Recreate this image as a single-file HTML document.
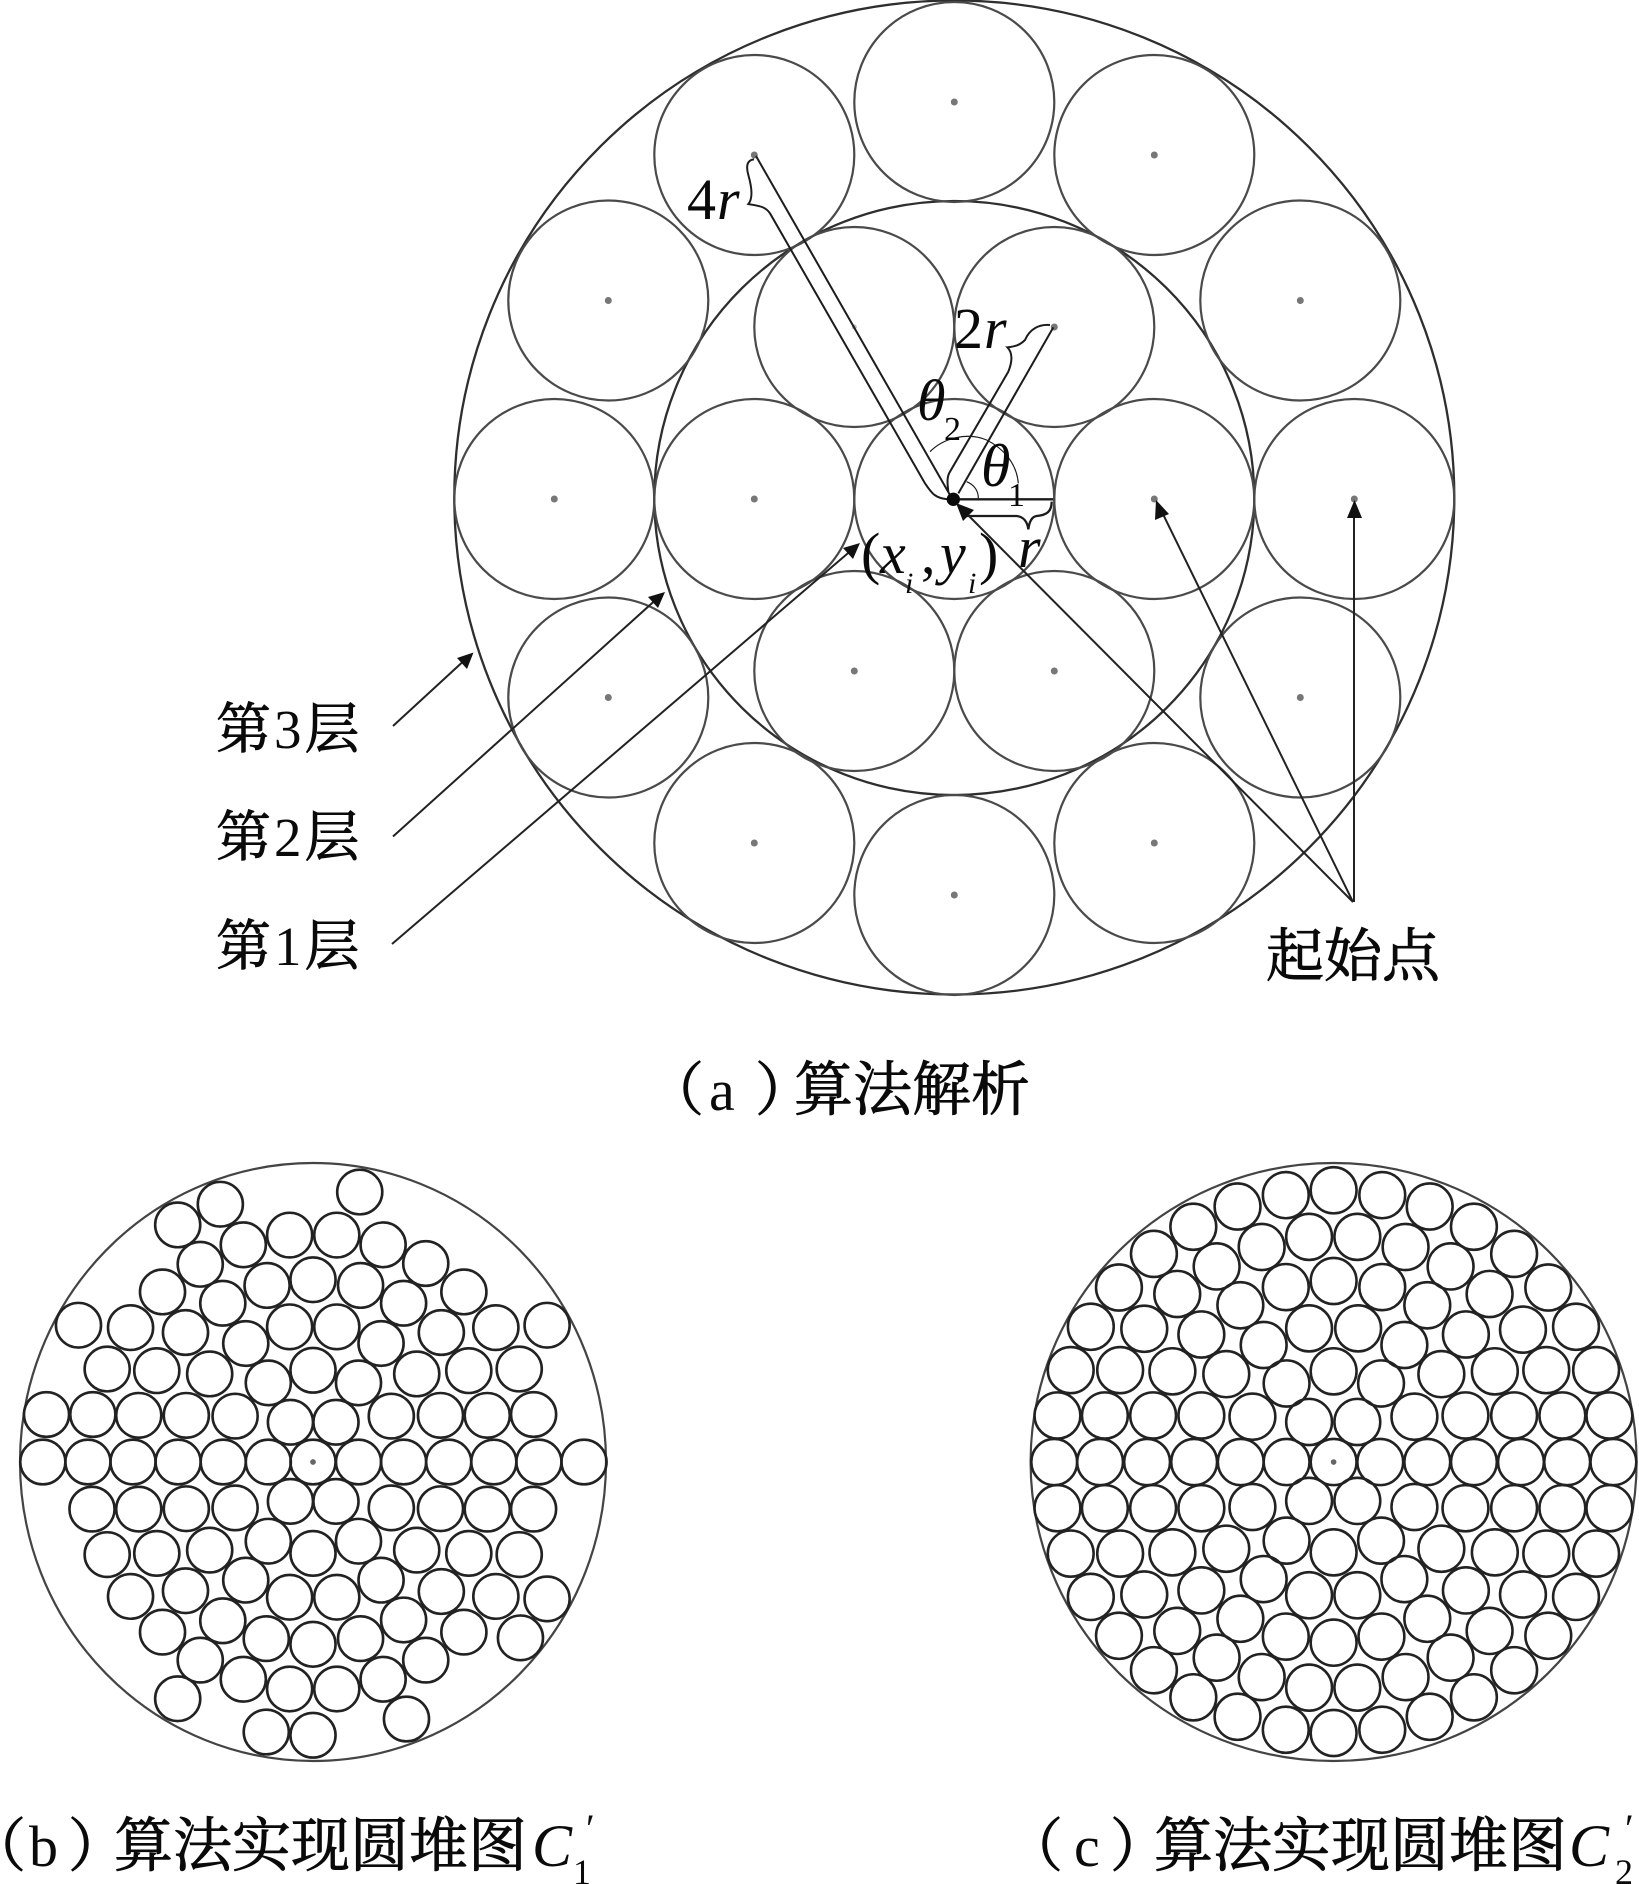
<!DOCTYPE html>
<html lang="zh">
<head>
<meta charset="utf-8">
<title>算法解析</title>
<style>
html,body{margin:0;padding:0;background:#fff}
svg{display:block}
.cn{font-family:"Liberation Serif","Noto Serif CJK SC",serif;fill:#0a0a0a;stroke:#0a0a0a;stroke-width:.9px}
.i{font-family:"Liberation Serif",serif;font-style:italic;fill:#0a0a0a}
.n{font-family:"Liberation Serif",serif;fill:#0a0a0a}
tspan.n{stroke:none}
</style>
</head>
<body>
<svg xmlns="http://www.w3.org/2000/svg" width="1639" height="1884" viewBox="0 0 1639 1884">
<rect width="1639" height="1884" fill="#fff"/>

<!-- (a) main diagram -->
<ellipse cx="954.3" cy="497.5" rx="500" ry="497" fill="none" stroke="#2e2e2e" stroke-width="2.3"/>
<ellipse cx="954.3" cy="498" rx="300" ry="297" fill="none" stroke="#2e2e2e" stroke-width="2.3"/>
<g fill="none" stroke="#4a4a4a" stroke-width="2.2">
<circle cx="954.3" cy="499" r="100"/>
<circle cx="1154.3" cy="499" r="100"/><circle cx="1054.3" cy="327" r="100"/><circle cx="854.3" cy="327" r="100"/>
<circle cx="754.3" cy="499" r="100"/><circle cx="854.3" cy="671" r="100"/><circle cx="1054.3" cy="671" r="100"/>
<circle cx="1354.3" cy="499" r="100"/><circle cx="1300.3" cy="300.5" r="100"/><circle cx="1154.3" cy="155" r="100"/>
<circle cx="954.3" cy="102" r="100"/><circle cx="754.3" cy="155" r="100"/><circle cx="608.3" cy="300.5" r="100"/>
<circle cx="554.3" cy="499" r="100"/><circle cx="608.3" cy="697.5" r="100"/><circle cx="754.3" cy="843" r="100"/>
<circle cx="954.3" cy="895" r="100"/><circle cx="1154.3" cy="843" r="100"/><circle cx="1300.3" cy="697.5" r="100"/>
</g>
<g fill="#777">
<circle cx="1154.3" cy="499" r="3.5"/><circle cx="1054.3" cy="327" r="3.5"/><circle cx="854.3" cy="327" r="2.5" fill="#bbb"/>
<circle cx="754.3" cy="499" r="3.5"/><circle cx="854.3" cy="671" r="3.5"/><circle cx="1054.3" cy="671" r="3.5"/>
<circle cx="1354.3" cy="499" r="3.5"/><circle cx="1300.3" cy="300.5" r="3.5"/><circle cx="1154.3" cy="155" r="3.5"/>
<circle cx="954.3" cy="102" r="3.5"/><circle cx="754.3" cy="155" r="3.5"/><circle cx="608.3" cy="300.5" r="3.5"/>
<circle cx="554.3" cy="499" r="3.5"/><circle cx="608.3" cy="697.5" r="3.5"/><circle cx="754.3" cy="843" r="3.5"/>
<circle cx="954.3" cy="895" r="3.5"/><circle cx="1154.3" cy="843" r="3.5"/><circle cx="1300.3" cy="697.5" r="3.5"/>
</g>

<!-- annotation overlay in 3x local coordinates -->
<g transform="translate(650 130) scale(.33333)" fill="none" stroke="#1c1c1c" stroke-width="6">
<path d="M318,78 L900,1095"/>
<path d="M312,88 C290,90 288,110 295,135 C305,170 310,205 295,222 C325,228 345,228 360,250 L825,1060 C845,1090 855,1105 895,1108"/>
<path d="M1210,592 L925,1090"/>
<path d="M1200,585 C1170,582 1140,595 1125,630 C1110,645 1095,650 1072,652 C1090,670 1085,700 1075,725 L900,1025 C890,1040 892,1060 895,1085"/>
<path d="M915,1108 L1210,1108" stroke-width="7"/>
<path d="M1205,1115 C1205,1145 1190,1155 1160,1158 C1145,1160 1138,1175 1135,1198 C1132,1175 1120,1160 1100,1158 L950,1158" stroke-width="7"/>
<path d="M840,965 C880,925 950,905 1010,930 C1060,955 1100,1000 1105,1060" stroke-width="3.5"/>
<path d="M950,1055 C975,1065 985,1085 985,1105" stroke-width="3.5"/>
<circle cx="910" cy="1108" r="20" fill="#0a0a0a" stroke="none"/>
</g>

<!-- arrows -->
<g stroke="#222" stroke-width="2" fill="none">
<path d="M393,726 L468,657"/>
<path d="M393,836.5 L660,596"/>
<path d="M392,944 L854,548"/>
<path d="M1353,902 L963,510"/>
<path d="M1353,902 L1160,508"/>
<path d="M1354,902 L1354,510"/>
</g>
<g fill="#111">
<polygon points="473.5,652.5 467,669 457,658"/>
<polygon points="665,592 658,608 648,597"/>
<polygon points="860,543 853,559 843,548"/>
<polygon points="956,503 974,510 963,521"/>
<polygon points="1156,500 1169,514 1155,520"/>
<polygon points="1354.5,500 1362,518 1347,518"/>
</g>

<!-- layer labels -->
<text class="cn" x="216" y="748" font-size="55">第<tspan class="n" dx="3">3</tspan><tspan dx="3">层</tspan></text>
<text class="cn" x="216" y="856" font-size="55">第<tspan class="n" dx="3">2</tspan><tspan dx="3">层</tspan></text>
<text class="cn" x="216" y="965" font-size="55">第<tspan class="n" dx="3">1</tspan><tspan dx="3">层</tspan></text>
<text class="cn" x="1266" y="976" font-size="58">起始点</text>

<!-- math labels -->
<text class="n" x="687" y="219" font-size="58">4</text><text class="i" x="717" y="219" font-size="58">r</text>
<text class="n" x="954" y="348" font-size="58">2</text><text class="i" x="984" y="348" font-size="58">r</text>
<text class="i" x="917" y="420" font-size="58">θ</text><text class="n" x="944" y="440" font-size="34">2</text>
<text class="i" x="981" y="486" font-size="60">θ</text><text class="n" x="1008" y="506" font-size="34">1</text>
<text class="i" x="1018" y="567" font-size="58">r</text>
<text class="n" x="861" y="573" font-size="58">(</text>
<text class="i" x="880" y="573" font-size="58">x</text>
<text class="i" x="905" y="593" font-size="30">i</text>
<text class="n" x="921" y="573" font-size="58">,</text>
<text class="i" x="940" y="573" font-size="58">y</text>
<text class="i" x="968" y="593" font-size="30">i</text>
<text class="n" x="979" y="573" font-size="58">)</text>

<!-- captions -->
<text class="cn" x="646" y="1110" font-size="58">（</text>
<text class="n" x="709" y="1110" font-size="58">a</text>
<text class="cn" x="755" y="1110" font-size="58">）</text>
<text class="cn" x="794" y="1110" font-size="59">算法解析</text>

<text class="cn" x="-32" y="1866" font-size="58">（</text>
<text class="n" x="29" y="1866" font-size="58">b</text>
<text class="cn" x="68" y="1866" font-size="58">）</text>
<text class="cn" x="114" y="1866" font-size="59">算法实现圆堆图</text>
<text class="i" x="532" y="1866" font-size="60">C</text>
<text class="n" x="586" y="1842" font-size="40">′</text>
<text class="n" x="573" y="1884" font-size="36">1</text>

<text class="cn" x="1005" y="1866" font-size="58">（</text>
<text class="n" x="1074" y="1866" font-size="58">c</text>
<text class="cn" x="1110" y="1866" font-size="58">）</text>
<text class="cn" x="1154" y="1866" font-size="59">算法实现圆堆图</text>
<text class="i" x="1569" y="1866" font-size="60">C</text>
<text class="n" x="1625" y="1842" font-size="40">′</text>
<text class="n" x="1615" y="1884" font-size="36">2</text>

<!-- (b) C1 -->
<ellipse cx="313" cy="1462" rx="293" ry="299" fill="none" stroke="#444" stroke-width="2.2"/>
<g transform="matrix(.41 0 0 .406 -1.47 1142.5)" fill="none" stroke="#222" stroke-width="6.4">
<circle cx="881" cy="122" r="55"/><circle cx="541" cy="152" r="55"/><circle cx="437" cy="203" r="55"/>
<circle cx="597" cy="252" r="55"/><circle cx="710" cy="228" r="55"/><circle cx="825" cy="228" r="55"/><circle cx="938" cy="252" r="55"/>
<circle cx="492" cy="300" r="55"/><circle cx="1042" cy="298" r="55"/>
<circle cx="400" cy="368" r="55"/><circle cx="655" cy="352" r="55"/><circle cx="767" cy="338" r="55"/><circle cx="883" cy="352" r="55"/><circle cx="1135" cy="368" r="55"/>
<circle cx="547" cy="396" r="55"/><circle cx="988" cy="396" r="55"/>
<circle cx="195" cy="450" r="55"/><circle cx="322" cy="456" r="55"/><circle cx="456" cy="468" r="55"/><circle cx="710" cy="454" r="55"/><circle cx="825" cy="454" r="55"/><circle cx="1080" cy="468" r="55"/><circle cx="1213" cy="456" r="55"/><circle cx="1338" cy="450" r="55"/>
<circle cx="603" cy="495" r="55"/><circle cx="933" cy="495" r="55"/>
<circle cx="265" cy="558" r="55"/><circle cx="386" cy="562" r="55"/><circle cx="515" cy="570" r="55"/><circle cx="767" cy="561" r="55"/><circle cx="1020" cy="570" r="55"/><circle cx="1147" cy="562" r="55"/><circle cx="1270" cy="558" r="55"/>
<circle cx="658" cy="592" r="55"/><circle cx="878" cy="592" r="55"/>
<circle cx="117" cy="670" r="55"/><circle cx="230" cy="670" r="55"/><circle cx="342" cy="672" r="55"/><circle cx="458" cy="672" r="55"/><circle cx="577" cy="674" r="55"/><circle cx="958" cy="674" r="55"/><circle cx="1078" cy="672" r="55"/><circle cx="1192" cy="672" r="55"/><circle cx="1305" cy="670" r="55"/>
<circle cx="712" cy="689" r="55"/><circle cx="823" cy="689" r="55"/>
<circle cx="108" cy="787" r="55"/><circle cx="218" cy="787" r="55"/><circle cx="328" cy="787" r="55"/><circle cx="438" cy="787" r="55"/><circle cx="548" cy="787" r="55"/><circle cx="658" cy="787" r="55"/><circle cx="767" cy="787" r="55"/><circle cx="878" cy="787" r="55"/><circle cx="988" cy="787" r="55"/><circle cx="1098" cy="787" r="55"/><circle cx="1208" cy="787" r="55"/><circle cx="1318" cy="787" r="55"/><circle cx="1428" cy="787" r="55"/>
<circle cx="712" cy="884" r="55"/><circle cx="823" cy="884" r="55"/>
<circle cx="228" cy="903" r="55"/><circle cx="342" cy="903" r="55"/><circle cx="458" cy="902" r="55"/><circle cx="577" cy="900" r="55"/><circle cx="958" cy="900" r="55"/><circle cx="1078" cy="902" r="55"/><circle cx="1192" cy="903" r="55"/><circle cx="1305" cy="903" r="55"/>
<circle cx="658" cy="982" r="55"/><circle cx="878" cy="982" r="55"/>
<circle cx="265" cy="1015" r="55"/><circle cx="386" cy="1012" r="55"/><circle cx="515" cy="1004" r="55"/><circle cx="767" cy="1012" r="55"/><circle cx="1020" cy="1004" r="55"/><circle cx="1147" cy="1012" r="55"/><circle cx="1270" cy="1015" r="55"/>
<circle cx="603" cy="1078" r="55"/><circle cx="933" cy="1078" r="55"/>
<circle cx="322" cy="1118" r="55"/><circle cx="456" cy="1104" r="55"/><circle cx="1080" cy="1106" r="55"/><circle cx="1213" cy="1118" r="55"/><circle cx="1338" cy="1124" r="55"/>
<circle cx="710" cy="1120" r="55"/><circle cx="825" cy="1120" r="55"/>
<circle cx="547" cy="1178" r="55"/><circle cx="988" cy="1176" r="55"/>
<circle cx="400" cy="1206" r="55"/><circle cx="1135" cy="1206" r="55"/>
<circle cx="653" cy="1222" r="55"/><circle cx="767" cy="1236" r="55"/><circle cx="883" cy="1222" r="55"/>
<circle cx="1273" cy="1220" r="55"/>
<circle cx="492" cy="1275" r="55"/><circle cx="1042" cy="1275" r="55"/>
<circle cx="597" cy="1322" r="55"/><circle cx="938" cy="1322" r="55"/>
<circle cx="710" cy="1346" r="55"/><circle cx="825" cy="1346" r="55"/>
<circle cx="437" cy="1370" r="55"/><circle cx="995" cy="1420" r="55"/>
<circle cx="653" cy="1452" r="55"/><circle cx="767" cy="1460" r="55"/>
<circle cx="767" cy="787" r="7" fill="#666" stroke="none"/>
</g>

<!-- (c) C2 -->
<ellipse cx="1333.6" cy="1462" rx="303" ry="299" fill="none" stroke="#444" stroke-width="2.2"/>
<g transform="matrix(.402 0 0 .405 1008.4 1142.5)" fill="none" stroke="#222" stroke-width="6.4">
<circle cx="460" cy="208" r="57"/><circle cx="570" cy="158" r="57"/><circle cx="690" cy="130" r="57"/><circle cx="809" cy="118" r="57"/><circle cx="930" cy="130" r="57"/><circle cx="1048" cy="158" r="57"/><circle cx="1158" cy="208" r="57"/>
<circle cx="362" cy="275" r="57"/><circle cx="518" cy="306" r="57"/><circle cx="630" cy="258" r="57"/><circle cx="748" cy="233" r="57"/><circle cx="868" cy="233" r="57"/><circle cx="988" cy="258" r="57"/><circle cx="1100" cy="306" r="57"/><circle cx="1258" cy="275" r="57"/>
<circle cx="275" cy="358" r="57"/><circle cx="420" cy="374" r="57"/><circle cx="577" cy="402" r="57"/><circle cx="690" cy="357" r="57"/><circle cx="809" cy="342" r="57"/><circle cx="930" cy="357" r="57"/><circle cx="1042" cy="402" r="57"/><circle cx="1197" cy="374" r="57"/><circle cx="1343" cy="358" r="57"/>
<circle cx="205" cy="455" r="57"/><circle cx="338" cy="460" r="57"/><circle cx="480" cy="474" r="57"/><circle cx="635" cy="500" r="57"/><circle cx="748" cy="459" r="57"/><circle cx="870" cy="459" r="57"/><circle cx="985" cy="500" r="57"/><circle cx="1138" cy="474" r="57"/><circle cx="1280" cy="462" r="57"/><circle cx="1412" cy="455" r="57"/>
<circle cx="155" cy="562" r="57"/><circle cx="278" cy="562" r="57"/><circle cx="408" cy="565" r="57"/><circle cx="542" cy="572" r="57"/><circle cx="692" cy="595" r="57"/><circle cx="809" cy="565" r="57"/><circle cx="927" cy="595" r="57"/><circle cx="1077" cy="572" r="57"/><circle cx="1210" cy="565" r="57"/><circle cx="1338" cy="562" r="57"/><circle cx="1462" cy="562" r="57"/>
<circle cx="122" cy="674" r="57"/><circle cx="240" cy="674" r="57"/><circle cx="360" cy="674" r="57"/><circle cx="480" cy="674" r="57"/><circle cx="607" cy="677" r="57"/><circle cx="748" cy="690" r="57"/><circle cx="868" cy="690" r="57"/><circle cx="1010" cy="677" r="57"/><circle cx="1137" cy="674" r="57"/><circle cx="1258" cy="674" r="57"/><circle cx="1378" cy="674" r="57"/><circle cx="1495" cy="674" r="57"/>
<circle cx="114" cy="789" r="57"/><circle cx="228" cy="789" r="57"/><circle cx="345" cy="789" r="57"/><circle cx="462" cy="789" r="57"/><circle cx="578" cy="789" r="57"/><circle cx="692" cy="789" r="57"/><circle cx="809" cy="789" r="57"/><circle cx="925" cy="789" r="57"/><circle cx="1042" cy="789" r="57"/><circle cx="1158" cy="789" r="57"/><circle cx="1275" cy="789" r="57"/><circle cx="1390" cy="789" r="57"/><circle cx="1505" cy="789" r="57"/>
<circle cx="122" cy="903" r="57"/><circle cx="240" cy="903" r="57"/><circle cx="360" cy="903" r="57"/><circle cx="480" cy="903" r="57"/><circle cx="607" cy="900" r="57"/><circle cx="748" cy="885" r="57"/><circle cx="868" cy="885" r="57"/><circle cx="1010" cy="900" r="57"/><circle cx="1137" cy="903" r="57"/><circle cx="1258" cy="903" r="57"/><circle cx="1378" cy="903" r="57"/><circle cx="1495" cy="903" r="57"/>
<circle cx="155" cy="1015" r="57"/><circle cx="278" cy="1015" r="57"/><circle cx="408" cy="1012" r="57"/><circle cx="542" cy="1003" r="57"/><circle cx="692" cy="983" r="57"/><circle cx="809" cy="1012" r="57"/><circle cx="927" cy="983" r="57"/><circle cx="1077" cy="1003" r="57"/><circle cx="1210" cy="1012" r="57"/><circle cx="1338" cy="1015" r="57"/><circle cx="1462" cy="1015" r="57"/>
<circle cx="205" cy="1122" r="57"/><circle cx="338" cy="1116" r="57"/><circle cx="480" cy="1106" r="57"/><circle cx="635" cy="1078" r="57"/><circle cx="748" cy="1118" r="57"/><circle cx="868" cy="1118" r="57"/><circle cx="985" cy="1078" r="57"/><circle cx="1138" cy="1106" r="57"/><circle cx="1280" cy="1116" r="57"/><circle cx="1412" cy="1122" r="57"/>
<circle cx="275" cy="1218" r="57"/><circle cx="420" cy="1206" r="57"/><circle cx="577" cy="1176" r="57"/><circle cx="690" cy="1220" r="57"/><circle cx="809" cy="1235" r="57"/><circle cx="928" cy="1220" r="57"/><circle cx="1042" cy="1176" r="57"/><circle cx="1197" cy="1206" r="57"/><circle cx="1343" cy="1218" r="57"/>
<circle cx="362" cy="1303" r="57"/><circle cx="518" cy="1272" r="57"/><circle cx="630" cy="1320" r="57"/><circle cx="748" cy="1346" r="57"/><circle cx="868" cy="1346" r="57"/><circle cx="988" cy="1320" r="57"/><circle cx="1100" cy="1272" r="57"/><circle cx="1258" cy="1303" r="57"/>
<circle cx="460" cy="1370" r="57"/><circle cx="570" cy="1418" r="57"/><circle cx="690" cy="1450" r="57"/><circle cx="809" cy="1458" r="57"/><circle cx="930" cy="1450" r="57"/><circle cx="1048" cy="1418" r="57"/><circle cx="1158" cy="1370" r="57"/>
<circle cx="809" cy="789" r="7" fill="#666" stroke="none"/>
</g>
</svg>
</body>
</html>
